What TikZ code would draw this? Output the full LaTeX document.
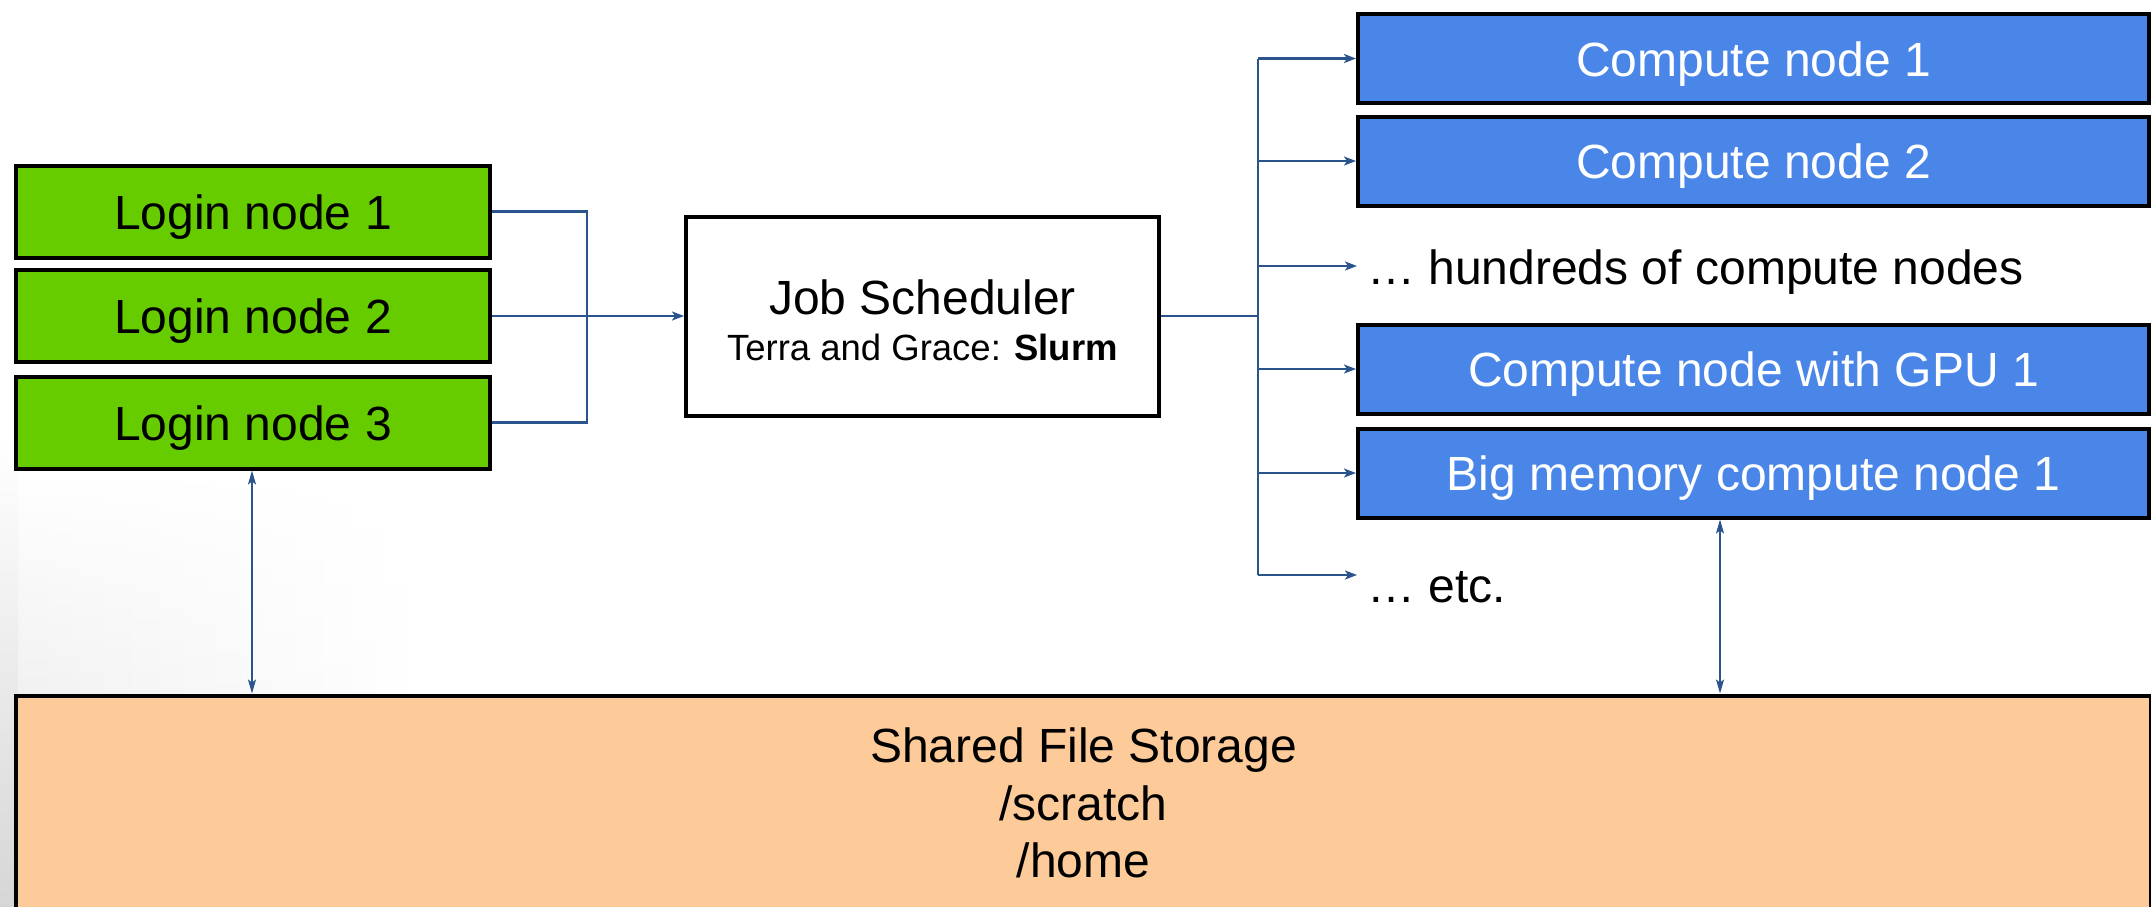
\documentclass[tikz,border=0pt]{standalone}
\usepackage{fontspec}
\setmainfont{Liberation Sans}
\usetikzlibrary{arrows.meta,fadings}

\definecolor{logingreen}{RGB}{102,204,0}
\definecolor{computeblue}{RGB}{74,134,232}
\definecolor{storagepeach}{RGB}{253,202,154}
\definecolor{linkblue}{RGB}{44,84,140}

\tikzset{
  big/.style={font=\fontsize{48}{57.6}\selectfont},
  boxbase/.style={draw=black, line width=4pt, rectangle, inner sep=0pt,
    text height=35pt, text depth=0pt},
  loginbox/.style={boxbase, fill=logingreen, minimum width=474pt, minimum height=92pt, big},
  computebox/.style={boxbase, fill=computeblue, text=white, minimum width=791pt, minimum height=89pt, big},
  schedbox/.style={boxbase, fill=white, minimum width=473pt, minimum height=199pt},
  storebox/.style={boxbase, fill=storagepeach, minimum width=2135pt, minimum height=240pt},
  plain/.style={inner xsep=10pt, inner ysep=0pt, anchor=base west, big},
  conn/.style={draw=linkblue, line width=2.2pt},
  arr/.style={conn, -{Stealth[length=12pt,width=9pt,inset=3pt]}},
  dbl/.style={draw=linkblue, line width=1.8pt,
    {Stealth[length=14pt,width=8pt,inset=3pt]}-{Stealth[length=14pt,width=8pt,inset=3pt]}},
}

\begin{document}
\begin{tikzpicture}[x=1pt, y=-1pt]
  \useasboundingbox (0,0) rectangle (2151,906);

  % faint slide backdrop on the lower left edge
  \shade[left color=black!6, right color=white, path fading=north] (0,470) rectangle (420,700);
  \shade[top color=white, bottom color=black!16] (0,440) rectangle (18,906);

  % login nodes
  \node[loginbox] (l1) at (253,211.5) {Login node 1};
  \node[loginbox] (l2) at (253,316) {Login node 2};
  \node[loginbox] (l3) at (253,422.5) {Login node 3};

  % job scheduler
  \node[schedbox] (js) at (922.5,316) {};
  \node[big, anchor=base, inner sep=0pt] (jst) at (922.5,314) {Job Scheduler};
  \node[font=\fontsize{36.5}{42}\selectfont, anchor=base, inner sep=0pt] (jss) at (922.5,360)
    {Terra and Grace: \textbf{Slurm}};

  % compute nodes
  \node[computebox] (c1) at (1753.5,58.5) {Compute node 1};
  \node[computebox] (c2) at (1753.5,161) {Compute node 2};
  \node[plain] (hund) at (1357,284) {\ldots\ hundreds of compute nodes};
  \node[computebox] (gpu) at (1753.5,369) {Compute node with GPU 1};
  \node[computebox] (bigm) at (1753.5,473) {Big memory compute node 1};
  \node[plain] (etc) at (1357,602) {\ldots\ etc.};

  % shared storage
  \node[storebox] (st) at (1083.5,815.5) {};
  \node[big, anchor=base, inner sep=0pt] (st1) at (1083.5,762) {Shared File Storage};
  \node[big, anchor=base, inner sep=0pt] (st2) at (1083.5,820) {/scratch};
  \node[big, anchor=base, inner sep=0pt] (st3) at (1083.5,877) {/home};

  % login nodes feed the scheduler
  \coordinate (merge) at (587,316);
  \draw[conn] (l1.east) -| (merge);
  \draw[conn] (l3.east) -| (merge);
  \draw[arr] (l2.east) -- (js.west);

  % scheduler dispatches to the compute nodes
  \coordinate (bus) at (1258,316);
  \coordinate (bustop) at (1258,58.5);
  \coordinate (busbot) at (1258,575);
  \draw[conn] (js.east) -- (bus);
  \draw[conn] (bustop) -- (busbot);
  \draw[arr] (bustop) -- (c1.west);
  \draw[arr] (c2.west -| bus) -- (c2.west);
  \draw[arr] (bus |- 0,266) -- (hund.west |- 0,266);
  \draw[arr] (gpu.west -| bus) -- (gpu.west);
  \draw[arr] (bigm.west -| bus) -- (bigm.west);
  \draw[arr] (busbot) -- (hund.west |- busbot);

  % storage links
  \draw[dbl] (l3.south -| 252,0) -- (st.north -| 252,0);
  \draw[dbl] (bigm.south -| 1720,0) -- (st.north -| 1720,0);
\end{tikzpicture}
\end{document}
